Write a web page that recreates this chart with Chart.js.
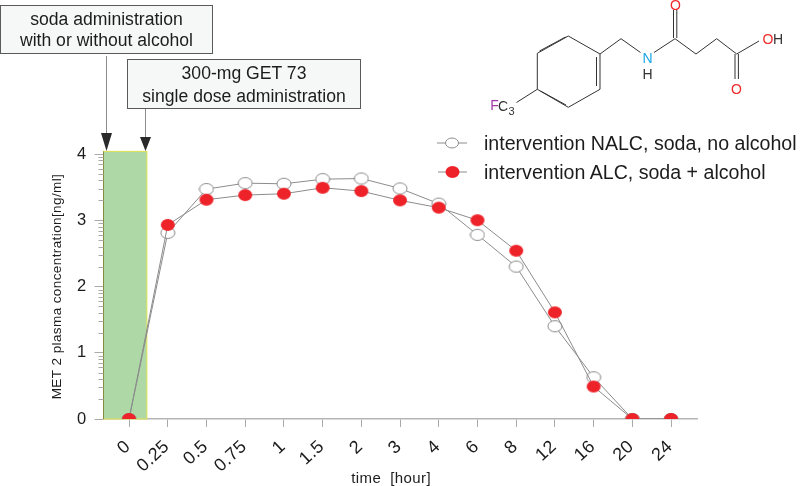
<!DOCTYPE html>
<html>
<head>
  <title>MET 2 plasma concentration</title>
  <style>
    body { margin: 0; background: #fff; }
    #wrap { position: relative; width: 800px; height: 486px; overflow: hidden; font-family: "Liberation Sans", Arial, sans-serif; }
    #myChart, #over { position: absolute; left: 0; top: 0; }
    .box { position: absolute; box-sizing: border-box; border: 1.5px solid #5a5a5a; background: #f5f8f6; color: #1c1c1c; text-align: center; font-size: 17.6px; }
    .box div { position: absolute; left: 0; right: 0; white-space: nowrap; }
    .leg { position: absolute; left: 484px; font-size: 19.6px; color: #1c1c1c; white-space: nowrap; line-height: 20px; }
  </style>
</head>
<body>
<div id="wrap">
  <canvas id="myChart" width="800" height="486"></canvas>
  <svg id="over" width="800" height="486" font-family="Liberation Sans, Arial, sans-serif">
    <!-- arrows -->
    <g stroke="#8c8c8c" stroke-width="1">
      <line x1="106.5" y1="56" x2="106.5" y2="134"/>
      <line x1="145.5" y1="108" x2="145.5" y2="137"/>
    </g>
    <path d="M101 133 L112 133 L106.5 151 Z M140 137 L151 137 L145.5 151 Z" fill="#2a2a2a"/>
    <!-- molecule -->
    <g stroke="#333" stroke-width="1" fill="none">
      <path d="M568.3 36 L600 54 L600 89.3 L568.3 107.3 L537.3 89.3 L537.3 53.3 Z"/>
      <path d="M539.5 51 L565.5 37 M596.5 57 L596.5 86 M540.5 91 L566 105"/>
      <path d="M537.3 89.3 L516.5 102.5"/>
      <path d="M600 54 L621 38.7 L640.5 52.5"/>
      <path d="M654 52.5 L675 38.7 L696 54 L716.7 38.7 L736.7 54 L759 41"/>
      <path d="M673.5 38 L673.5 10 M676.8 38 L676.8 10"/>
      <path d="M735 54 L735 79 M738.4 54 L738.4 79"/>
    </g>
    <g font-size="14" text-anchor="middle">
      <text x="675.5" y="10" fill="#ee2a2a">O</text>
      <text x="647.5" y="62.5" fill="#1ca7e6">N</text>
      <text x="647.5" y="78.5" fill="#333">H</text>
      <text x="768" y="44" fill="#ee2a2a">O</text>
      <text x="778" y="44" fill="#333">H</text>
      <text x="736.5" y="93.5" fill="#ee2a2a">O</text>
      <text x="494.5" y="110" fill="#a23aa8">F</text>
      <text x="503" y="111" fill="#333">C</text>
      <text x="511.5" y="115" fill="#333" font-size="11">3</text>
    </g>
    <!-- legend swatches -->
    <g stroke="#8c8c8c" stroke-width="1">
      <line x1="437" y1="143" x2="467" y2="143"/>
      <line x1="438" y1="172" x2="467" y2="172"/>
    </g>
    <ellipse cx="452" cy="143" rx="6.5" ry="5" fill="#fff" stroke="#8c8c8c"/>
    <ellipse cx="452.5" cy="172" rx="7" ry="6" fill="#ee2229"/>
  </svg>
  <div class="box" style="left:0;top:5px;width:213px;height:49px"><div style="top:3px">soda administration</div><div style="top:24px">with or without alcohol</div></div>
  <div class="box" style="left:127px;top:59px;width:234px;height:50px"><div style="top:3px">300-mg GET 73</div><div style="top:26px">single dose administration</div></div>
  <div class="leg" id="leg0" style="top:133px"></div>
  <div class="leg" id="leg1" style="top:162px"></div>
</div>
<script src="https://cdn.jsdelivr.net/npm/chart.js"></script>
<script>
  const hours = ['0', '0.25', '0.5', '0.75', '1', '1.5', '2', '3', '4', '6', '8', '12', '16', '20', '24'];
  const nalc = [0, 2.81, 3.47, 3.56, 3.55, 3.62, 3.63, 3.48, 3.25, 2.78, 2.30, 1.40, 0.63, 0, 0];
  const alc = [0, 2.93, 3.31, 3.38, 3.40, 3.49, 3.44, 3.30, 3.19, 3.00, 2.54, 1.61, 0.49, 0, 0];
  const seriesNames = ['intervention NALC, soda, no alcohol', 'intervention ALC, soda + alcohol'];
  const yMajor = [0, 1, 2, 3, 4];
  const yMinor = [0.301, 0.477, 0.602, 0.699, 0.778, 0.845, 0.903, 0.954]; // log style minor ticks

  // oval markers, the picture is a bit stretched sideways
  function oval(fill, stroke) {
    var c = document.createElement('canvas');
    c.width = 16; c.height = 14;
    var g = c.getContext('2d');
    g.beginPath();
    g.ellipse(8, 7, 7, stroke ? 5.6 : 6, 0, 0, Math.PI * 2);
    g.fillStyle = fill;
    g.fill();
    if (stroke) { g.strokeStyle = stroke; g.lineWidth = 1; g.stroke(); }
    return c;
  }

  // green band and the small y ticks
  const extras = {
    id: 'extras',
    beforeDraw(chart) {
      chart.ctx.letterSpacing = '0.4px';
    },
    beforeDatasetsDraw(chart) {
      var g = chart.ctx, x = chart.scales.x, y = chart.scales.y;
      var l = x.left, r = x.getPixelForValue(0.46), t = y.getPixelForValue(4.04), b = y.getPixelForValue(0);
      g.save();
      g.fillStyle = '#aed8a6';
      g.fillRect(l, t, r - l, b - t);
      g.strokeStyle = '#dfe04e';
      g.lineWidth = 1;
      g.strokeRect(l, t, r - l, b - t);
      g.strokeStyle = '#8a8a3e';
      g.beginPath(); g.moveTo(l, t); g.lineTo(l, b); g.stroke();
      g.strokeStyle = '#aaaaaa';
      g.beginPath();
      yMajor.slice(0, -1).forEach(function (m) {
        yMinor.forEach(function (f) {
          var p = Math.round(y.getPixelForValue(m + f)) + 0.5;
          g.moveTo(l - 5, p); g.lineTo(l, p);
        });
      });
      g.stroke();
      g.restore();
    }
  };

  const ctx = document.getElementById('myChart');
  var chart = new Chart(ctx, {
    type: 'line',
    data: {
      datasets: [
        { label: seriesNames[0], data: nalc.map((v, i) => ({ x: i, y: v })), borderColor: '#8c8c8c', borderWidth: 1, pointStyle: oval('#fff', '#8c8c8c'), order: 2 },
        { label: seriesNames[1], data: alc.map((v, i) => ({ x: i, y: v })), borderColor: '#8c8c8c', borderWidth: 1, pointStyle: oval('#ee2229'), order: 1 }
      ]
    },
    plugins: [extras],
    options: {
      responsive: false,
      animation: false,
      layout: { padding: { left: 0, top: 154, right: 103, bottom: 0 } },
      plugins: { legend: { display: false }, tooltip: { enabled: false } },
      scales: {
        x: {
          type: 'linear',
          min: -0.66,
          max: 14.67,
          afterBuildTicks(s) { s.ticks = hours.map((h, i) => ({ value: i })); },
          afterFit(s) { s.height = 67; },
          border: { color: '#b5b5b5', width: 1.5 },
          grid: { drawOnChartArea: false, tickLength: 8, tickColor: '#aaaaaa' },
          ticks: { autoSkip: false, minRotation: 43, maxRotation: 43, padding: 9, labelOffset: -1, color: '#1c1c1c', font: { family: 'Liberation Sans', size: 18 }, callback: v => hours[v] },
          title: { display: true, text: 'time  [hour]\u00a0\u00a0\u00a0\u00a0', color: '#1c1c1c', padding: 0, font: { family: 'Liberation Sans', size: 15, lineHeight: 1 } }
        },
        y: {
          min: 0,
          max: 4,
          afterBuildTicks(s) { s.ticks = yMajor.map(v => ({ value: v })); },
          afterFit(s) { s.width = 103.5; },
          border: { display: false },
          grid: { drawOnChartArea: false, tickLength: 9, tickColor: '#aaaaaa' },
          ticks: { padding: 8, color: '#1c1c1c', font: { family: 'Liberation Sans', size: 16.5 } },
          title: { display: true, text: 'MET 2 plasma concentration[ng/ml]', color: '#1c1c1c', padding: { top: 49, bottom: 0 }, font: { family: 'Liberation Sans', size: 13.5 } }
        }
      }
    }
  });

  document.getElementById('leg0').textContent = seriesNames[0];
  document.getElementById('leg1').textContent = seriesNames[1];
</script>
</body>
</html>
